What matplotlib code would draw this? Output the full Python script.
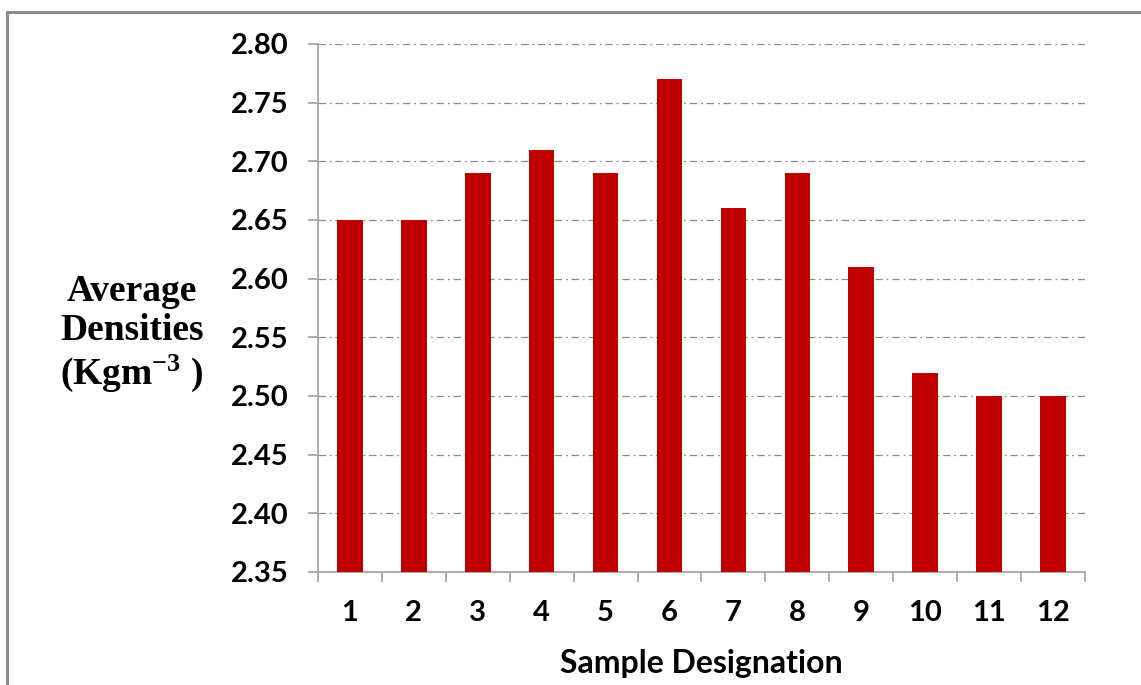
import matplotlib
matplotlib.use('Agg')
import matplotlib.pyplot as plt
import matplotlib.patches as patches
from matplotlib.ticker import FixedLocator

# --- Data ---
samples = ['1', '2', '3', '4', '5', '6', '7', '8', '9', '10', '11', '12']
densities = [2.65, 2.65, 2.69, 2.71, 2.69, 2.77, 2.66, 2.69, 2.61, 2.52, 2.50, 2.50]
y_ticks = [2.35, 2.40, 2.45, 2.50, 2.55, 2.60, 2.65, 2.70, 2.75, 2.80]

BAR_COLOR = '#c00000'
AXIS_COLOR = '#a6a6a6'
TICK_FONT = 'Lato'

# serif maths for the superscript in the y label
plt.rcParams['mathtext.fontset'] = 'custom'
plt.rcParams['mathtext.rm'] = 'Liberation Serif:bold'
plt.rcParams['mathtext.bf'] = 'Liberation Serif:bold'
plt.rcParams['mathtext.it'] = 'Liberation Serif:bold'

fig = plt.figure(figsize=(11.41, 6.85), dpi=100)
ax = fig.add_axes([0.2787, 0.1650, 0.6722, 0.7708])

x = list(range(1, len(samples) + 1))
ax.bar(x, densities, width=0.4, color=BAR_COLOR, zorder=3)

ax.set_xlim(0.5, 12.5)
ax.set_ylim(2.35, 2.80)
ax.set_yticks(y_ticks)
ax.set_yticklabels([f'{v:.2f}' for v in y_ticks])
ax.set_xticks(x)
ax.set_xticklabels(samples)
ax.xaxis.set_minor_locator(FixedLocator([i + 0.5 for i in range(0, 13)]))

# grid: dash-dot grey
ax.yaxis.grid(True, color='#8c8c8c', lw=0.9, linestyle=(0, (6, 3, 1.5, 3)), zorder=0)
ax.set_axisbelow(True)

for side in ['top', 'right']:
    ax.spines[side].set_visible(False)
for side in ['left', 'bottom']:
    ax.spines[side].set_color(AXIS_COLOR)
    ax.spines[side].set_linewidth(1.3)

ax.tick_params(axis='y', length=7, width=1.3, color=AXIS_COLOR, pad=14)
ax.tick_params(axis='x', which='major', length=0, pad=20)
ax.tick_params(axis='x', which='minor', length=7, width=1.3, color=AXIS_COLOR)

for lbl in ax.get_yticklabels() + ax.get_xticklabels():
    lbl.set_fontfamily(TICK_FONT)
    lbl.set_fontweight('bold')
    lbl.set_fontsize(21)
    lbl.set_color('black')

ax.set_xlabel('Sample Designation', fontfamily=TICK_FONT, fontweight='bold', fontsize=23, labelpad=17)

# y label as free text (horizontal, serif)
fig.text(132 / 1141, 1 - 334 / 685, 'Average\nDensities\n(Kgm$^{\\mathrm{-3}}$ )',
         ha='center', va='center', fontfamily='Liberation Serif', fontweight='bold',
         fontsize=27, linespacing=1.15)

# --- Outer chart frame (clipped by image edge) ---
fig.add_artist(patches.Rectangle((7 / 1141, -0.2), 1.5, 1.2 - 12 / 685,
                                 transform=fig.transFigure, fill=False,
                                 edgecolor='#8a8a8a', lw=2.2, clip_on=False))

plt.savefig('out.png', dpi=100, facecolor='white')
plt.close()
